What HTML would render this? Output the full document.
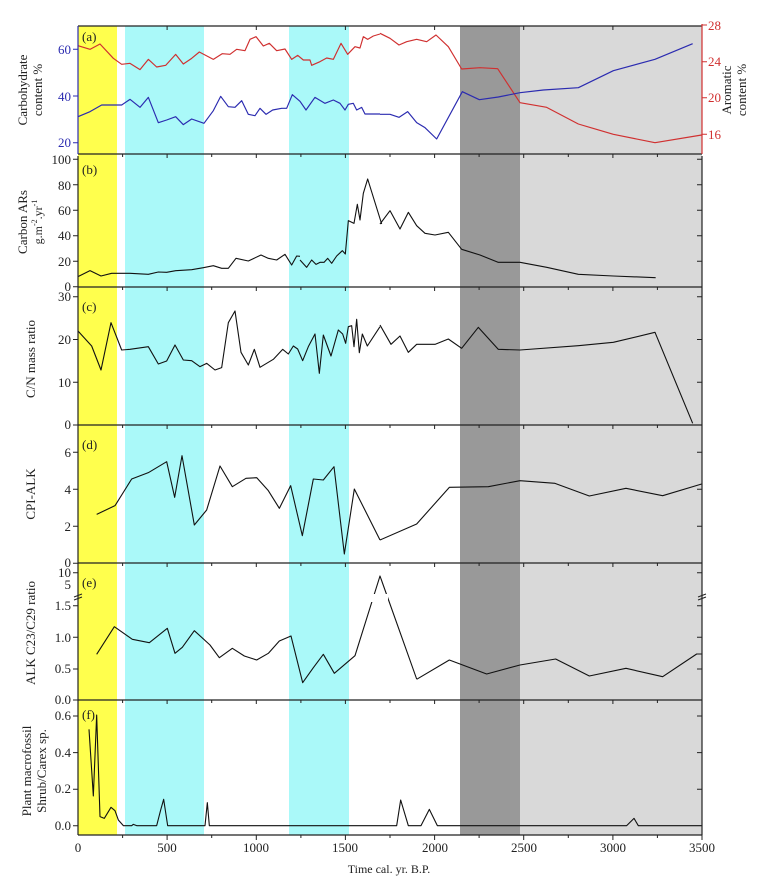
<!DOCTYPE html>
<html><head><meta charset="utf-8"><style>
html,body{margin:0;padding:0;background:#fff;}
svg{display:block;font-family:"Liberation Serif",serif;}
</style></head><body>
<svg width="760" height="896" viewBox="0 0 760 896" xmlns="http://www.w3.org/2000/svg">
<!-- bands -->
<rect x="78" y="26" width="39" height="809" fill="#ffff4d"/>
<rect x="125" y="26" width="79" height="809" fill="#aaf9f9"/>
<rect x="289" y="26" width="60" height="809" fill="#aaf9f9"/>
<rect x="460" y="26" width="60" height="809" fill="#999999"/>
<rect x="520" y="26" width="182" height="809" fill="#d9d9d9"/>

<g fill="none" stroke-linejoin="round">
<!-- (a) red -->
<g transform="translate(0,20) scale(0.33333)" stroke="#d03030" stroke-width="3.5">
<polyline points="234,77 270,88 300,72 340,115 365,133 390,130 420,149 445,118 470,141 497,136 527,103 550,132 575,115 598,96 640,118 667,101 690,103 710,88 735,92 750,58 768,50 790,78 808,70 830,92 855,87 875,118 893,106 910,120 930,120 935,136 960,125 980,114 1000,118 1023,70 1043,103 1065,80 1080,84 1090,50 1103,58 1120,48 1140,42"/>
</g>
<g transform="translate(380,20) scale(0.33333)" stroke="#d03030" stroke-width="3.5">
<polyline points="0,40 30,55 57,75 80,65 110,58 140,65 168,45 205,80 245,147 300,143 353,146 420,248 500,262 595,312 700,343 825,368 965,345"/>
</g>
<!-- (a) blue -->
<g transform="translate(0,20) scale(0.33333)" stroke="#2b2bb0" stroke-width="3.5">
<polyline points="234,290 270,275 305,255 350,255 365,255 390,238 420,262 445,232 475,308 500,300 527,290 550,314 575,297 612,310 640,272 662,229 685,260 705,262 725,242 745,283 765,287 780,265 798,283 818,270 845,265 860,265 877,224 900,244 918,270 945,232 975,250 1000,240 1020,250 1035,270 1045,253 1060,250 1070,270 1085,262 1095,282 1140,282"/>
</g>
<g transform="translate(380,20) scale(0.33333)" stroke="#2b2bb0" stroke-width="3.5">
<polyline points="0,283 30,283 57,292 83,275 110,308 135,323 170,357 247,215 298,239 355,231 420,218 490,210 595,203 700,152 825,118 938,71"/>
</g>
<!-- black series -->
<g stroke="#111" stroke-width="3.3">
<g transform="translate(0,20) scale(0.33333)">
<polyline points="234,770 270,752 303,768 335,760 390,760 445,763 475,756 500,757 527,752 575,749 610,743 640,737 665,745 685,745 708,715 745,723 783,705 805,715 830,720 855,703 875,735 890,708 900,709"/>
</g>
<g transform="translate(300,150) scale(0.33333)">
<polyline points="0,330 20,352 35,330 48,343 60,337 72,337 83,325 95,340 110,318 127,302 136,312 145,212 162,220 172,163 180,210 190,130 203,87 245,222"/>
</g>
<g transform="translate(380,20) scale(0.33333)">
<polyline points="0,612 30,572 60,627 85,577 110,617 135,640 165,645 205,637 245,688 300,705 355,727 420,727 500,742 595,763 700,768 827,773"/>
</g>
<g transform="translate(0,280) scale(0.33333)">
<polyline points="234,153 275,198 303,270 333,128 365,210 390,208 445,200 475,252 500,243 525,195 550,240 575,242 600,260 620,250 645,270 665,263 685,128 705,93 723,217 745,255 763,208 780,262 820,238 848,208 865,222 880,198 893,207 908,242 925,200 945,162 958,280 970,165 993,228 1015,150 1028,162 1037,190 1045,140 1055,137 1062,200 1070,118 1078,218 1087,162 1102,198 1140,140"/>
<polyline points="290,703 345,677 395,597 445,578 500,545 524,652 546,527 583,735 620,690 660,558 697,620 738,595 770,593 805,632 838,685 872,617 907,767 940,597 970,600 1002,560 1033,822 1063,627 1140,780"/>
</g>
<g transform="translate(380,280) scale(0.33333)">
<polyline points="0,135 33,193 60,168 85,217 110,193 165,193 205,177 245,205 295,142 355,208 420,210 595,197 700,187 825,157 938,430"/>
<polyline points="0,780 110,732 208,622 325,620 420,602 525,610 628,648 738,625 848,647 965,612"/>
</g>
<g transform="translate(0,560) scale(0.33333)">
<polyline points="290,283 343,200 397,238 448,248 502,205 525,280 547,262 583,212 630,255 658,293 697,265 733,288 770,300 805,280 838,243 873,228 908,368 940,323 970,283 1003,340 1065,287 1140,48 1250,357"/>
<polyline points="267,508 280,708 290,465 300,770 313,775 333,742 345,752 355,780 370,797 395,797 400,793 410,797 470,797 482,750 491,718 503,797 615,797 622,728 628,797 1140,797"/>
</g>
<g transform="translate(380,560) scale(0.33333)">
<polyline points="110,358 208,300 320,342 420,315 527,297 628,348 738,325 848,350 950,282 965,282"/>
<polyline points="0,797 50,797 62,720 85,797 123,797 148,748 172,797 740,797 762,775 775,797 965,797"/>
</g>
</g>
</g>
<!-- break gap in (e) -->
<rect x="368" y="594" width="20" height="8" fill="#fff"/>

<!-- frames -->
<g stroke="#222" stroke-width="1.2" fill="none">
<line x1="78" y1="26" x2="702" y2="26"/>
<line x1="78" y1="154" x2="702" y2="154"/>
<line x1="78" y1="287" x2="702" y2="287"/>
<line x1="78" y1="425" x2="702" y2="425"/>
<line x1="78" y1="563" x2="702" y2="563"/>
<line x1="78" y1="700" x2="702" y2="700"/>
<line x1="78" y1="835" x2="702" y2="835"/>
<line x1="78" y1="156" x2="78" y2="835"/>
<line x1="702" y1="156" x2="702" y2="835"/>
</g>
<line x1="78" y1="26" x2="78" y2="154" stroke="#2b2bb0" stroke-width="1.2"/>
<line x1="702" y1="24" x2="702" y2="154" stroke="#d03030" stroke-width="1.2"/>

<!-- x ticks -->
<g stroke="#222" stroke-width="1">
<path d="M167.1,835v5M256.3,835v5M345.4,835v5M434.6,835v5M523.7,835v5M612.9,835v5M702,835v5
M122.6,835v3M211.7,835v3M300.9,835v3M390,835v3M479.1,835v3M568.3,835v3M657.4,835v3
M167.1,26v4M256.3,26v4M345.4,26v4M434.6,26v4M523.7,26v4M612.9,26v4
M167.1,154v4M256.3,154v4M345.4,154v4M434.6,154v4M523.7,154v4M612.9,154v4
M167.1,287v4M256.3,287v4M345.4,287v4M434.6,287v4M523.7,287v4M612.9,287v4
M167.1,425v4M256.3,425v4M345.4,425v4M434.6,425v4M523.7,425v4M612.9,425v4
M167.1,563v4M256.3,563v4M345.4,563v4M434.6,563v4M523.7,563v4M612.9,563v4
M167.1,700v4M256.3,700v4M345.4,700v4M434.6,700v4M523.7,700v4M612.9,700v4
M122.6,154v3M211.7,154v3M300.9,154v3M390,154v3M479.1,154v3M568.3,154v3M657.4,154v3
M122.6,287v3M211.7,287v3M300.9,287v3M390,287v3M479.1,287v3M568.3,287v3M657.4,287v3
M122.6,425v3M211.7,425v3M300.9,425v3M390,425v3M479.1,425v3M568.3,425v3M657.4,425v3
M122.6,563v3M211.7,563v3M300.9,563v3M390,563v3M479.1,563v3M568.3,563v3M657.4,563v3
M122.6,700v3M211.7,700v3M300.9,700v3M390,700v3M479.1,700v3M568.3,700v3M657.4,700v3
M73,159.3h5M73,184.8h5M73,210.2h5M73,235.7h5M73,261.2h5M73,286.7h5
M73,296.7h5M73,339.5h5M73,382.3h5M73,425h5
M73,452.3h5M73,489.3h5M73,526.3h5M73,563.3h5
M73,572.7h5M73,605.7h5M73,637.3h5M73,669h5M73,700h5
M73,716h5M73,752.6h5M73,789.2h5M73,825.7h5
M697,159.3h5M697,184.8h5M697,210.2h5M697,235.7h5M697,261.2h5
M697,296.7h5M697,339.5h5M697,382.3h5
M697,452.3h5M697,489.3h5M697,526.3h5
M697,572.7h5M697,605.7h5M697,637.3h5M697,669h5
M697,716h5M697,752.6h5M697,789.2h5"/>
</g>
<g stroke="#2b2bb0"><path d="M73,49.3h5M73,96h5M73,142.7h5"/></g>
<g stroke="#d03030"><path d="M702,25h5M702,61.7h5M702,97.7h5M702,134.3h5"/></g>

<!-- tick labels -->
<g font-size="13" fill="#222" text-anchor="end">
<g fill="#2b2bb0"><text x="71" y="54">60</text><text x="71" y="101">40</text><text x="71" y="147">20</text></g>
<text x="71" y="164">100</text><text x="71" y="190">80</text><text x="71" y="215">60</text><text x="71" y="240">40</text><text x="71" y="266">20</text><text x="71" y="291">0</text>
<text x="71" y="301">30</text><text x="71" y="344">20</text><text x="71" y="387">10</text><text x="71" y="429">0</text>
<text x="71" y="457">6</text><text x="71" y="494">4</text><text x="71" y="531">2</text><text x="71" y="567">0</text>
<text x="71" y="577">10</text><text x="71" y="589">5</text><text x="71" y="610">1.5</text><text x="71" y="642">1.0</text><text x="71" y="673">0.5</text><text x="71" y="704">0.0</text>
<text x="71" y="720">0.6</text><text x="71" y="757">0.4</text><text x="71" y="793">0.2</text><text x="71" y="830">0.0</text>
</g>
<g font-size="13" fill="#d03030"><text x="708" y="30">28</text><text x="708" y="66">24</text><text x="708" y="102">20</text><text x="708" y="139">16</text></g>
<g font-size="13" fill="#222" text-anchor="middle">
<text x="78" y="852">0</text><text x="167" y="852">500</text><text x="256" y="852">1000</text><text x="345" y="852">1500</text><text x="435" y="852">2000</text><text x="524" y="852">2500</text><text x="613" y="852">3000</text><text x="702" y="852">3500</text>
<text x="389" y="873" font-size="12">Time cal. yr. B.P.</text>
</g>
<!-- panel letters -->
<g font-size="13" fill="#222">
<text x="82" y="41">(a)</text><text x="82" y="174">(b)</text><text x="82" y="311">(c)</text><text x="82" y="449">(d)</text><text x="82" y="587">(e)</text><text x="82" y="719">(f)</text>
</g>
<!-- axis titles -->
<g font-size="13" fill="#222" text-anchor="middle">
<text transform="translate(27,90) rotate(-90)">Carbohydrate</text>
<text transform="translate(42,90) rotate(-90)">content  %</text>
<text transform="translate(731,90) rotate(-90)">Aromatic</text>
<text transform="translate(746,90) rotate(-90)">content %</text>
<text transform="translate(27,222) rotate(-90)">Carbon ARs</text>
<text transform="translate(42,222) rotate(-90)" font-size="12">g.m<tspan font-size="8" dy="-5">-2</tspan><tspan dy="5">.yr</tspan><tspan font-size="8" dy="-5">-1</tspan></text>
<text transform="translate(35,359) rotate(-90)">C/N mass ratio</text>
<text transform="translate(35,494) rotate(-90)">CPI-ALK</text>
<text transform="translate(35,633) rotate(-90)">ALK C23/C29 ratio</text>
<text transform="translate(31,771) rotate(-90)">Plant macrofossil</text>
<text transform="translate(46,771) rotate(-90)">Shrub/Carex sp.</text>
</g>
<!-- break marks -->
<g stroke="#222" stroke-width="1"><path d="M74,597l8,-3M74,600l8,-3M698,597l8,-3M698,600l8,-3"/></g>
</svg>
</body></html>
